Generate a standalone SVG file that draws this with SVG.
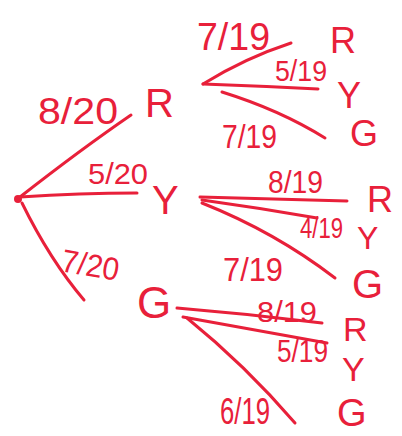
<svg xmlns="http://www.w3.org/2000/svg" width="402" height="436" viewBox="0 0 402 436">
<style>
.e{fill:none;stroke:#e8203a;stroke-width:3;stroke-linecap:round}
.t{fill:#e8203a;font-family:"Liberation Sans","DejaVu Sans",sans-serif}
</style>
<rect width="402" height="436" fill="#fff"/>
<g id="connectors">
<path class="e" d="M20,197 Q80,150 131,115"/>
<path class="e" d="M20,197 Q80,193 137,193"/>
<path class="e" d="M22,203 Q50,260 84,300"/>
<path class="e" d="M203,84 Q245,58 291,43"/>
<path class="e" d="M203,84 Q260,86 318,89"/>
<path class="e" d="M222,92 Q280,110 325,138"/>
<path class="e" d="M200,197 Q275,199 347,201"/>
<path class="e" d="M202,200 Q260,208 317,218"/>
<path class="e" d="M202,203 Q275,232 335,278"/>
<path class="e" d="M177,308 Q250,314 322,323"/>
<path class="e" d="M183,317 Q255,330 327,343"/>
<path class="e" d="M187,318 Q245,365 295,423"/>
</g>
<g id="edge-labels">
<text class="t" x="38" y="124" font-size="36" textLength="80" lengthAdjust="spacingAndGlyphs">8/20</text>
<text class="t" x="88" y="184" font-size="30" textLength="60" lengthAdjust="spacingAndGlyphs">5/20</text>
<text class="t" x="62" y="276" font-size="32" textLength="58" lengthAdjust="spacingAndGlyphs" transform="rotate(10 90 262)">7/20</text>
<text class="t" x="197" y="50" font-size="38" textLength="73" lengthAdjust="spacingAndGlyphs">7/19</text>
<text class="t" x="275" y="81" font-size="30" textLength="52" lengthAdjust="spacingAndGlyphs">5/19</text>
<text class="t" x="222" y="148" font-size="34" textLength="55" lengthAdjust="spacingAndGlyphs">7/19</text>
<text class="t" x="268" y="193" font-size="32" textLength="55" lengthAdjust="spacingAndGlyphs">8/19</text>
<text class="t" x="300" y="238" font-size="30" textLength="43" lengthAdjust="spacingAndGlyphs">4/19</text>
<text class="t" x="223" y="281" font-size="34" textLength="60" lengthAdjust="spacingAndGlyphs">7/19</text>
<text class="t" x="257" y="322" font-size="30" textLength="60" lengthAdjust="spacingAndGlyphs">8/19</text>
<text class="t" x="277" y="362" font-size="32" textLength="51" lengthAdjust="spacingAndGlyphs">5/19</text>
<text class="t" x="220" y="424" font-size="36" textLength="50" lengthAdjust="spacingAndGlyphs">6/19</text>
</g>
<g id="root"><circle cx="18" cy="199" r="4" fill="#e8203a"/></g>
<g id="node-R"><text class="t" x="145" y="117" font-size="40">R</text></g>
<g id="node-Y"><text class="t" x="152" y="214" font-size="40">Y</text></g>
<g id="node-G"><text class="t" x="137" y="318" font-size="44">G</text></g>
<g id="node-RR"><text class="t" x="330" y="53" font-size="36">R</text></g>
<g id="node-RY"><text class="t" x="337" y="108" font-size="36">Y</text></g>
<g id="node-RG"><text class="t" x="350" y="146" font-size="36">G</text></g>
<g id="node-YR"><text class="t" x="367" y="212" font-size="36">R</text></g>
<g id="node-YY"><text class="t" x="357" y="249" font-size="32">Y</text></g>
<g id="node-YG"><text class="t" x="352" y="298" font-size="40">G</text></g>
<g id="node-GR"><text class="t" x="343" y="341" font-size="34">R</text></g>
<g id="node-GY"><text class="t" x="342" y="381" font-size="34">Y</text></g>
<g id="node-GG"><text class="t" x="337" y="426" font-size="38">G</text></g>
</svg>
